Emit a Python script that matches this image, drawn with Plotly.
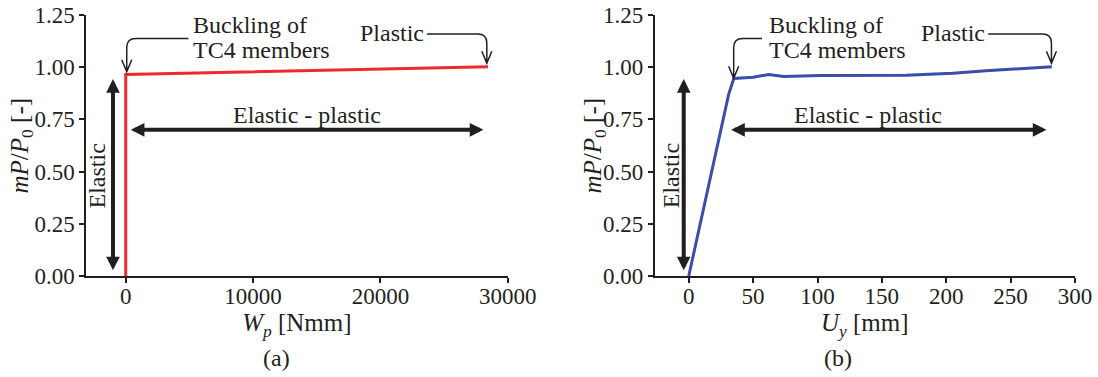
import plotly.graph_objects as go

# ---------------- data ----------------
wp_x = [0, 0, 28450]
wp_y = [0.0, 0.965, 1.002]

uy_x = [0, 10, 20, 27, 31, 35, 50, 62, 74, 102, 135, 169, 205, 231, 282]
uy_y = [0.0, 0.28, 0.57, 0.77, 0.87, 0.946, 0.952, 0.965, 0.956, 0.960, 0.961, 0.961, 0.971, 0.983, 1.002]

y_ticks = [0, 0.25, 0.5, 0.75, 1.0, 1.25]
y_ticklabels = ["0.00", "0.25", "0.50", "0.75", "1.00", "1.25"]
xa_ticks = [0, 10000, 20000, 30000]
xb_ticks = [0, 50, 100, 150, 200, 250, 300]

# ---------------- layout constants ----------------
W, H = 1098, 377
FONT = "Liberation Serif, Times New Roman, serif"
BLACK = "#231f20"
RED = "#ee2a2e"
BLUE = "#3a4ea8"
Y_RANGE = [0, 1.25]
XA_RANGE = [-3120, 30000]
XB_RANGE = [-26.6, 300]
DOM_A = [86 / W, 507.7 / W]
DOM_B = [654.5 / W, 1075 / W]
T_MARGIN, B_MARGIN = 15, 101
PLOT_H = H - T_MARGIN - B_MARGIN

# annotation geometry (data coords per panel)
PANELS = {
    "a": dict(xref="x", yref="y", xr=XA_RANGE, dom=DOM_A,
              elastic_x=-1000, elastic_text_x=-2280,
              ep_x0=283, ep_x1=28090, ep_text_x=14220,
              buck_text_x=5110, buck_start=4920, buck_x=80, buck_tip=0.978,
              pl_text_x=20880, pl_start=23650, pl_x=28360, pl_tip=1.019,
              label="(a)", label_x=276.7 / W, ytitle_x=21 / W),
    "b": dict(xref="x2", yref="y2", xr=XB_RANGE, dom=DOM_B,
              elastic_x=-3.9, elastic_text_x=-14.2,
              ep_x0=31.8, ep_x1=277.8, ep_text_x=139.3,
              buck_text_x=60.8, buck_start=56.9, buck_x=34.9, buck_tip=0.947,
              pl_text_x=205.4, pl_start=232.6, pl_x=281.7, pl_tip=1.019,
              label="(b)", label_x=837.5 / W, ytitle_x=594 / W),
}

fig = go.Figure()
fig.add_trace(go.Scatter(x=wp_x, y=wp_y, mode="lines", line=dict(color=RED, width=3),
                         xaxis="x", yaxis="y", showlegend=False, hoverinfo="skip"))
fig.add_trace(go.Scatter(x=uy_x, y=uy_y, mode="lines", line=dict(color=BLUE, width=3),
                         xaxis="x2", yaxis="y2", showlegend=False, hoverinfo="skip"))

axis_common = dict(showgrid=False, zeroline=False, showline=True, linecolor=BLACK, linewidth=1.5,
                   ticks="outside", ticklen=5, tickwidth=1.5, tickcolor=BLACK, automargin=False,
                   tickfont=dict(family=FONT, size=23, color=BLACK), mirror=False)

ytitle = "<i>mP</i>/<i>P</i><sub>0</sub> [-]"
TITLE_FONT = dict(size=25, family=FONT, color=BLACK)

fig.update_layout(
    width=W, height=H,
    margin=dict(l=0, r=0, t=T_MARGIN, b=B_MARGIN),
    paper_bgcolor="white", plot_bgcolor="white",
    font=dict(family=FONT, color=BLACK),
    xaxis=dict(domain=DOM_A, range=XA_RANGE, tickvals=xa_ticks, tickformat="d", anchor="y",
               ticklabelstandoff=-6,
               title=dict(text="<i>W</i><sub><i>p</i></sub> [Nmm]", font=TITLE_FONT, standoff=0),
               **axis_common),
    yaxis=dict(domain=[0, 1], range=Y_RANGE, tickvals=y_ticks, ticktext=y_ticklabels, anchor="x",
               **axis_common),
    xaxis2=dict(domain=DOM_B, range=XB_RANGE, tickvals=xb_ticks, tickformat="d", anchor="y2",
                ticklabelstandoff=-6,
                title=dict(text="<i>U</i><sub><i>y</i></sub> [mm]", font=TITLE_FONT, standoff=0),
                **axis_common),
    yaxis2=dict(domain=[0, 1], range=Y_RANGE, tickvals=y_ticks, ticktext=y_ticklabels, anchor="x2",
                **axis_common),
)

TXT = dict(family=FONT, size=24, color=BLACK)
ypx = (Y_RANGE[1] - Y_RANGE[0]) / PLOT_H  # data units per pixel in y

annotations = []
shapes = []
for key, p in PANELS.items():
    xr, dom = p["xr"], p["dom"]
    xpx = (xr[1] - xr[0]) / ((dom[1] - dom[0]) * W)  # data units per pixel in x
    xref, yref = p["xref"], p["yref"]
    arrow = dict(xref=xref, yref=yref, axref=xref, ayref=yref, text="",
                 showarrow=True, arrowhead=2, startarrowhead=2, arrowside="end+start",
                 arrowwidth=4, arrowsize=0.68, startarrowsize=0.68, arrowcolor=BLACK)
    # y-axis title
    annotations.append(dict(x=p["ytitle_x"], y=0.5, xref="paper", yref="paper",
                            xanchor="center", yanchor="middle", textangle=-90,
                            text=ytitle, showarrow=False, font=dict(size=25, family=FONT, color=BLACK)))
    # vertical elastic double arrow
    annotations.append(dict(x=p["elastic_x"], y=0.943, ax=p["elastic_x"], ay=0.02, **arrow))
    annotations.append(dict(x=p["elastic_text_x"], y=0.48, xref=xref, yref=yref, text="Elastic",
                            textangle=-90, showarrow=False, font=TXT))
    # horizontal elastic-plastic double arrow
    annotations.append(dict(x=p["ep_x1"], y=0.70, ax=p["ep_x0"], ay=0.70, **arrow))
    annotations.append(dict(x=p["ep_text_x"], y=0.771, xref=xref, yref=yref, text="Elastic - plastic",
                            showarrow=False, font=TXT))
    # buckling text (two lines)
    annotations.append(dict(x=p["buck_text_x"], y=1.202, xref=xref, yref=yref, xanchor="left",
                            text="Buckling of", showarrow=False, font=TXT))
    annotations.append(dict(x=p["buck_text_x"], y=1.082, xref=xref, yref=yref, xanchor="left",
                            text="TC4 members", showarrow=False, font=TXT))
    # plastic text
    annotations.append(dict(x=p["pl_text_x"], y=1.162, xref=xref, yref=yref, text="Plastic",
                            showarrow=False, font=TXT))
    r = 9  # corner radius px
    hw, hl = 5, 12  # arrowhead half-width, length (px)
    # buckling arrow: horizontal leftwards then down
    yb = 1.138
    bx = p["buck_x"]
    path = (f"M {p['buck_start']},{yb} L {bx + r * xpx},{yb} "
            f"Q {bx},{yb} {bx},{yb - r * ypx} L {bx},{p['buck_tip']} "
            f"M {bx - hw * xpx},{p['buck_tip'] + hl * ypx} L {bx},{p['buck_tip']} "
            f"L {bx + hw * xpx},{p['buck_tip'] + hl * ypx}")
    shapes.append(dict(type="path", path=path, xref=xref, yref=yref,
                       line=dict(color=BLACK, width=1.5)))
    # plastic arrow: horizontal rightwards then down
    yp = 1.159
    px_ = p["pl_x"]
    path = (f"M {p['pl_start']},{yp} L {px_ - r * xpx},{yp} "
            f"Q {px_},{yp} {px_},{yp - r * ypx} L {px_},{p['pl_tip']} "
            f"M {px_ - hw * xpx},{p['pl_tip'] + hl * ypx} L {px_},{p['pl_tip']} "
            f"L {px_ + hw * xpx},{p['pl_tip'] + hl * ypx}")
    shapes.append(dict(type="path", path=path, xref=xref, yref=yref,
                       line=dict(color=BLACK, width=1.5)))
    # sub-figure label
    annotations.append(dict(x=p["label_x"], y=(276 - 358.3) / PLOT_H, xref="paper", yref="paper",
                            xanchor="center", yanchor="middle",
                            text=p["label"], showarrow=False, font=TXT))

fig.update_layout(annotations=annotations, shapes=shapes)
fig.write_html("out.html", config={"displayModeBar": False},
               post_script="document.body.style.margin='0';")
